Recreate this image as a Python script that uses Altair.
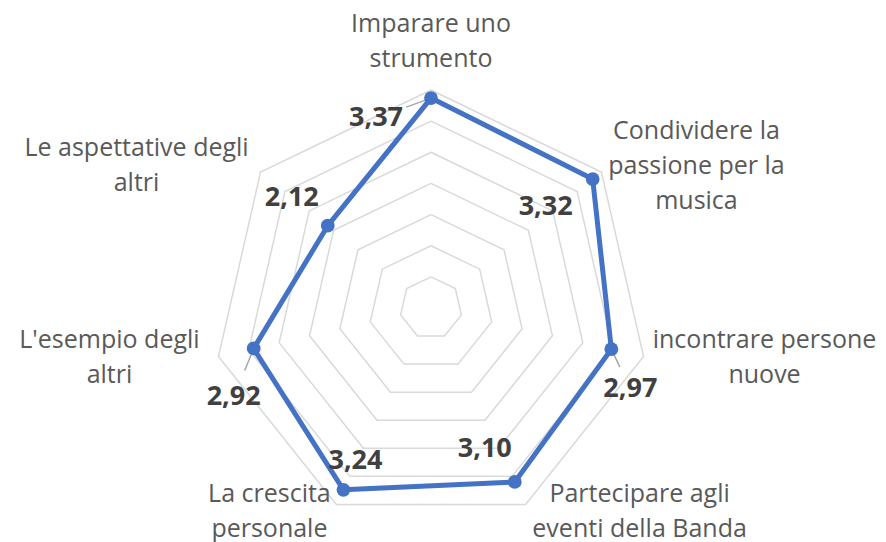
import math
import altair as alt
import pandas as pd

# ---- data ----
categories = [
    "Imparare uno\nstrumento",
    "Condividere la\npassione per la\nmusica",
    "incontrare persone\nnuove",
    "Partecipare agli\neventi della Banda",
    "La crescita\npersonale",
    "L'esempio degli\naltri",
    "Le aspettative degli\naltri",
]
values = [3.37, 3.32, 2.97, 3.10, 3.24, 2.92, 2.12]
value_labels = ["3,37", "3,32", "2,97", "3,10", "3,24", "2,92", "2,12"]
grid_levels = [0.5, 1.0, 1.5, 2.0, 2.5, 3.0, 3.5]

# ---- layout / style ----
W, H = 870, 534
CX, CY = 423, 300           # centre of the radar in plot pixels
R_MAX = 218                 # pixel radius of the outer ring
V_MAX = 3.5
S = R_MAX / V_MAX           # pixels per data unit
XDOM = [-CX / S, (W - CX) / S]
YDOM = [-(H - CY) / S, CY / S]
LH = 35                     # line height of category labels

# label offsets in pixels (dx, dy) of the text block centre relative to anchor
cat_offsets = [(0, -49), (95, -6), (121, 1), (114, 7), (-67, 7), (-109, 1), (-124, -7)]
val_offsets = [(-55, 20), (-47, 28), (19, 40), (-30, -33), (12, -29), (-20, 49), (-36, -28)]
leader = [True, False, True, False, False, True, False]

n = len(categories)


def pos(i, v):
    a = 2 * math.pi * i / n
    return v * math.sin(a), v * math.cos(a)


# grid rings
grid_rows = []
for lvl in grid_levels:
    for k in range(n + 1):
        x, y = pos(k % n, lvl)
        grid_rows.append({"level": lvl, "order": k, "x": x, "y": y})
grid_df = pd.DataFrame(grid_rows)

# series polygon
series_rows = []
for k in range(n + 1):
    x, y = pos(k % n, values[k % n])
    series_rows.append({"order": k, "x": x, "y": y})
series_df = pd.DataFrame(series_rows)

point_df = pd.DataFrame(
    [{"x": pos(i, values[i])[0], "y": pos(i, values[i])[1], "label": value_labels[i]} for i in range(n)]
)

xs = alt.Scale(domain=XDOM, nice=False, zero=False)
ys = alt.Scale(domain=YDOM, nice=False, zero=False)
X = alt.X("x:Q", scale=xs, axis=None)
Y = alt.Y("y:Q", scale=ys, axis=None)

grid = alt.Chart(grid_df).mark_line(color="#d9d9d9", strokeWidth=1.5).encode(
    x=X, y=Y, detail="level:N", order="order:Q"
)

line = alt.Chart(series_df).mark_line(color="#4472C4", strokeWidth=5, strokeJoin="round").encode(
    x=X, y=Y, order="order:Q"
)

pts = alt.Chart(point_df).mark_point(filled=True, size=190, color="#4472C4", opacity=1).encode(x=X, y=Y)

# leader lines
lead_rows = []
for i in range(n):
    if leader[i]:
        px, py = pos(i, values[i])
        dx, dy = val_offsets[i]
        lead_rows.append({"x": px, "y": py, "x2": px + 0.45 * dx / S, "y2": py - 0.45 * dy / S})
lead_df = pd.DataFrame(lead_rows)
leads = alt.Chart(lead_df).mark_rule(color="#a6a6a6", strokeWidth=1.5).encode(
    x=X, y=Y, x2="x2:Q", y2="y2:Q"
)

layers = [grid, leads, line, pts]

for i in range(n):
    cx, cy = pos(i, V_MAX)
    nlines = categories[i].count("\n") + 1
    df = pd.DataFrame([{"x": cx, "y": cy, "t": categories[i]}])
    layers.append(
        alt.Chart(df).mark_text(
            font="Open Sans", fontSize=25, color="#595959", align="center", baseline="middle",
            lineBreak="\n", lineHeight=LH, dx=cat_offsets[i][0],
            dy=cat_offsets[i][1] - (nlines - 1) * LH / 2
        ).encode(x=X, y=Y, text="t:N")
    )

for i in range(n):
    px, py = pos(i, values[i])
    df = pd.DataFrame([{"x": px, "y": py, "t": value_labels[i]}])
    layers.append(
        alt.Chart(df).mark_text(
            font="Open Sans", fontSize=27, fontWeight="bold", color="#404040", align="center",
            baseline="middle", dx=val_offsets[i][0], dy=val_offsets[i][1]
        ).encode(x=X, y=Y, text="t:N")
    )

chart = alt.layer(*layers).properties(
    width=W, height=H, padding=0, background="white",
    autosize=alt.AutoSizeParams(type="none")
).configure_view(strokeWidth=0, stroke="transparent")

chart.save("out.html", embed_options={"renderer": "svg", "actions": False})
